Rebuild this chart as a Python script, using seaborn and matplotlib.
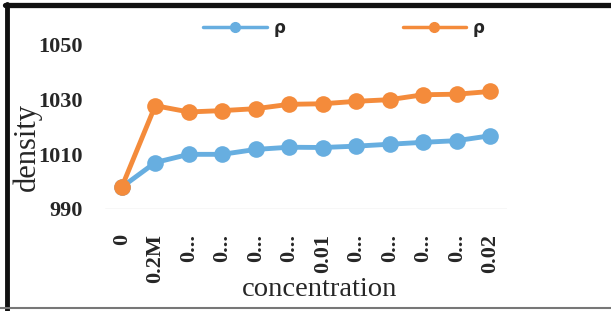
import seaborn as sns
import matplotlib.pyplot as plt
import matplotlib.lines as mlines
import pandas as pd

# Values
labels = ["0", "0.2M", "0...", "0...", "0...", "0...", "0.01",
          "0...", "0...", "0...", "0...", "0.02"]
rho_blue = [998, 1007, 1010, 1010, 1011.8, 1012.6, 1012.5,
            1013, 1013.7, 1014.4, 1015, 1016.8]
rho_orange = [998, 1027.8, 1025.5, 1026, 1026.7, 1028.3, 1028.5,
              1029.4, 1030, 1031.8, 1032, 1033]

df = pd.DataFrame({
    "pos": list(range(len(labels))),
    "blue": rho_blue,
    "orange": rho_orange,
})

sns.set_style("white")
serif = ["Liberation Serif", "DejaVu Serif"]

fig = plt.figure(figsize=(6.11, 3.11), dpi=100)
ax = fig.add_axes([105 / 611, 1 - 209 / 311, 402 / 611, 164 / 311])

blue_c = "#67aee0"
orange_c = "#f48b3b"

sns.lineplot(data=df, x="pos", y="blue", ax=ax, color=blue_c, lw=3.5,
             marker="o", markersize=12, markeredgewidth=0, label="ρ",
             clip_on=False)
sns.lineplot(data=df, x="pos", y="orange", ax=ax, color=orange_c, lw=3.5,
             marker="o", markersize=12, markeredgewidth=0, label="ρ",
             clip_on=False)

ax.set_xlim(-0.5, len(labels) - 0.5)
ax.set_ylim(990, 1050)
ax.set_yticks([990, 1010, 1030, 1050])
ax.set_xticks(df["pos"])
ax.set_xticklabels(labels, rotation=90, va="top")
for t in ax.get_xticklabels() + ax.get_yticklabels():
    t.set_family(serif)
    t.set_fontweight("bold")
    t.set_fontsize(16)
ax.tick_params(axis="y", length=0, pad=16)
ax.tick_params(axis="x", length=0, pad=18)

for s in ax.spines.values():
    s.set_visible(False)
ax.axhline(990, color="#d9d9d9", lw=1, zorder=0)

ax.set_xlabel("")
ax.set_ylabel("")
fig.text(320 / 611, 1 - 290 / 311, "concentration", family=serif,
         fontsize=20.5, ha="center", va="center")
fig.text(27 / 611, 1 - 147 / 311, "density", family=serif,
         fontsize=22, ha="center", va="center", rotation=90)

# legend on top
h_b = mlines.Line2D([], [], color=blue_c, lw=2.5, marker="o", markersize=7)
h_o = mlines.Line2D([], [], color=orange_c, lw=2.5, marker="o", markersize=7)
ax.legend([h_b, h_o], ["ρ", "ρ"], ncol=2, frameon=False,
          loc="center", bbox_to_anchor=(344 / 611, 1 - 28 / 311),
          bbox_transform=fig.transFigure,
          prop={"weight": "bold", "size": 12},
          handlelength=3.8, columnspacing=7.05, handletextpad=0.4)

# outer frame
fig.add_artist(mlines.Line2D([5 / 611, 1], [1 - 5 / 311, 1 - 5 / 311],
                             color="#111111", lw=3.8, transform=fig.transFigure))
fig.add_artist(mlines.Line2D([7 / 611, 7 / 611], [0, 1 - 4 / 311],
                             color="#111111", lw=3.5, transform=fig.transFigure))
fig.add_artist(mlines.Line2D([0, 1], [1 - 308 / 311, 1 - 308 / 311],
                             color="#777777", lw=1.5, transform=fig.transFigure))

fig.savefig("out.png", dpi=100)
